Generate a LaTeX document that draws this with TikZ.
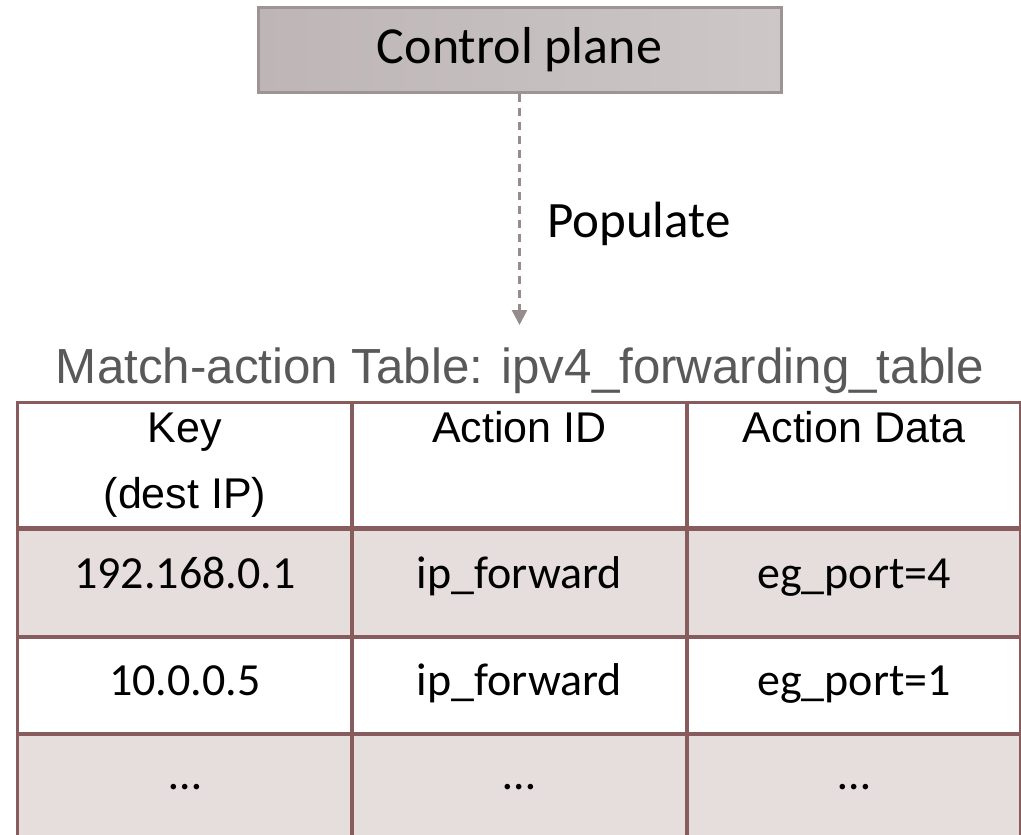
\documentclass[tikz,border=0pt]{standalone}
\usepackage{fontspec}
\setmainfont{Carlito}
\newfontfamily\arialf{Liberation Sans}
\usetikzlibrary{arrows.meta}
\definecolor{boxborder}{HTML}{9E9495}
\definecolor{boxleft}{HTML}{BDB5B6}
\definecolor{boxright}{HTML}{CDC7C8}
\definecolor{arrowcol}{HTML}{978C8D}
\definecolor{titlecol}{HTML}{595959}
\definecolor{gridcol}{HTML}{885C5C}
\definecolor{rowfill}{HTML}{E6DDDD}
\tikzset{
  cpbox/.style={draw=boxborder, line width=3pt, left color=boxleft, right color=boxright,
    minimum width=523pt, minimum height=85pt, inner sep=0pt,
    font=\fontsize{52}{62}\selectfont},
  poptext/.style={anchor=base west, inner sep=0pt, font=\fontsize{51}{60}\selectfont},
  titletext/.style={anchor=base, inner sep=0pt, text=titlecol, font=\arialf\fontsize{49.3}{58}\selectfont},
  headtext/.style={anchor=base, inner sep=0pt, font=\arialf\fontsize{43}{52}\selectfont},
  celltext/.style={anchor=base, inner sep=0pt, font=\fontsize{46}{55}\selectfont},
  gridline/.style={draw=gridcol, line width=3.2pt},
  populatearrow/.style={draw=arrowcol, line width=2.6pt, dash pattern=on 8pt off 6pt,
    -{Triangle[length=15pt,width=15pt,fill=arrowcol,sep=0pt]}}
}
\begin{document}
\begin{tikzpicture}[x=1pt,y=-1pt]
\useasboundingbox (0,0) rectangle (1021,835);
\clip (0,0) rectangle (1021,835);
% control plane
\node[cpbox] (cp) at (519.5,49.5) {Control plane};
\coordinate (tip) at (519.5,325);
\draw[populatearrow] (cp.south) -- (tip);
\node[poptext] (pop) at (547,237) {Populate};
% title
\node[titletext] (title) at (520,383) {Match-action Table: ipv4\_forwarding\_table};
% table fills
\fill[rowfill] (17.5,528) rectangle (1021,637);
\fill[rowfill] (17.5,734) rectangle (1021,840);
% grid
\draw[gridline] (17.5,402.5) -- (1021,402.5);
\draw[gridline, line width=5pt] (17.5,528) -- (1021,528);
\draw[gridline] (17.5,637) -- (1021,637);
\draw[gridline] (17.5,734) -- (1021,734);
\draw[gridline] (17.5,401) -- (17.5,840);
\draw[gridline] (352,401) -- (352,840);
\draw[gridline] (687,401) -- (687,840);
\draw[gridline, line width=2pt] (1020,401) -- (1020,840);
% header
\node[headtext] (h1a) at (185,442) {Key};
\node[headtext] (h1b) at (185,508) {(dest IP)};
\node[headtext] (h2) at (519.5,442) {Action ID};
\node[headtext] (h3) at (854,442) {Action Data};
% rows
\node[celltext] (r1c1) at (185,588) {192.168.0.1};
\node[celltext] (r1c2) at (519.5,588) {ip\_forward};
\node[celltext] (r1c3) at (854,588) {eg\_port=4};
\node[celltext] (r2c1) at (185,695) {10.0.0.5};
\node[celltext] (r2c2) at (519.5,695) {ip\_forward};
\node[celltext] (r2c3) at (854,695) {eg\_port=1};
\node[celltext] (r3c1) at (185,789) {…};
\node[celltext] (r3c2) at (519.5,789) {…};
\node[celltext] (r3c3) at (854,789) {…};
\end{tikzpicture}
\end{document}
